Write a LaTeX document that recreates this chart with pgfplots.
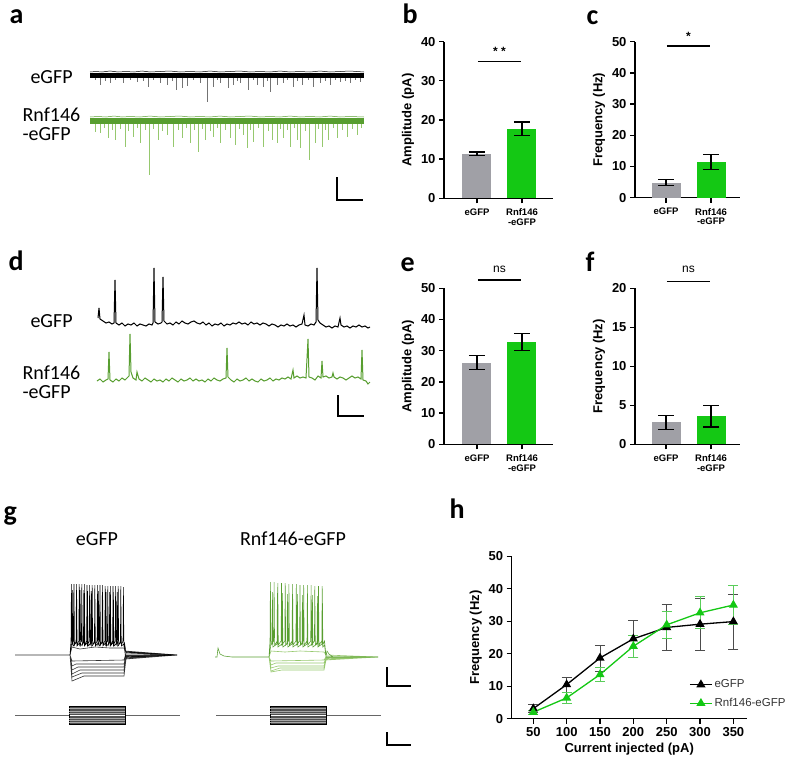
\documentclass[border=0pt]{standalone}
\usepackage{pgfplots}
\pgfplotsset{compat=1.18}
\usepackage{fontspec}
\setmainfont{Liberation Sans}
\newfontfamily\calib{Carlito}
\definecolor{bargray}{RGB}{160,160,166}
\definecolor{bargreen}{RGB}{20,200,20}
\definecolor{trgreen}{RGB}{88,158,48}
\definecolor{spkgreen}{RGB}{150,200,110}
\definecolor{hgreenerr}{RGB}{90,205,90}
\definecolor{stimgray}{RGB}{80,80,80}
\newcommand{\fs}[1]{\fontsize{#1}{#1}\selectfont}
\pgfplotsset{
 barax/.style={scale only axis, anchor=south west, axis x line*=bottom, axis y line*=left,
   axis line style={-, line width=1.3pt}, tick align=outside, major tick length=5pt,
   tick style={black, line width=1.3pt}, ymin=0, xtick={0,1}, xticklabels={eGFP,{Rnf146\\-eGFP}},
   xticklabel style={align=center, font=\bfseries\fs{9.5}, yshift=-2pt},
   yticklabel style={font=\bfseries\fs{13}}, /pgf/number format/assume math mode=true,
   ylabel style={font=\bfseries\fs{13}}, clip=false},
 mybar/.style={ybar, bar width=29pt, bar shift=0pt, draw=none, fill=#1,
   error bars/.cd, y dir=both, y explicit, error bar style={black, line width=1.3pt},
   error mark options={rotate=90, mark size=8pt, line width=1.3pt, black}},
}
\begin{document}
\begin{tikzpicture}[x=1pt,y=1pt]
% ---------------- overlay axis in pixel coordinates (traces) ----------------
\begin{axis}[at={(0pt,0pt)}, anchor=south west, scale only axis, width=790pt, height=763pt,
  xmin=0, xmax=790, ymin=0, ymax=763, y dir=reverse, axis lines=none, clip=false, unbounded coords=jump]
% panel letters
\node[anchor=base west, font=\calib\bfseries\fs{28}] at (axis cs:6,23) {a};
\node[anchor=base west, font=\calib\bfseries\fs{28}] at (axis cs:399,23) {b};
\node[anchor=base west, font=\calib\bfseries\fs{28}] at (axis cs:583,24) {c};
\node[anchor=base west, font=\calib\bfseries\fs{28}] at (axis cs:5,270) {d};
\node[anchor=base west, font=\calib\bfseries\fs{28}] at (axis cs:397,271.5) {e};
\node[anchor=base west, font=\calib\bfseries\fs{28}] at (axis cs:582,271.5) {f};
\node[anchor=base west, font=\calib\bfseries\fs{28}] at (axis cs:0,520) {g};
\node[anchor=base west, font=\calib\bfseries\fs{28}] at (axis cs:446,518) {h};
% trace labels
\node[anchor=west, font=\calib\fs{20}] at (axis cs:27,77) {eGFP};
\node[anchor=west, font=\calib\fs{20}] at (axis cs:19,115) {Rnf146};
\node[anchor=west, font=\calib\fs{20}] at (axis cs:19,134) {-eGFP};
\node[anchor=west, font=\calib\fs{20}] at (axis cs:27,321) {eGFP};
\node[anchor=west, font=\calib\fs{20}] at (axis cs:19,373) {Rnf146};
\node[anchor=west, font=\calib\fs{20}] at (axis cs:19,392) {-eGFP};
\node[font=\calib\fs{20}] at (axis cs:97,539) {eGFP};
\node[font=\calib\fs{20}] at (axis cs:293,539) {Rnf146-eGFP};
% ---- panel a ----
\addplot[black!55, line width=0.6pt] coordinates {
(95,75)(95,80)(95,nan) (100,75)(100,85)(100,nan) (105,75)(105,81)(105,nan) (110,75)(110,83)(110,nan)
(115,75)(115,80)(115,nan) (123,75)(123,83)(123,nan) (130,75)(130,80)(130,nan) (137,75)(137,82)(137,nan)
(143,75)(143,81)(143,nan) (148,75)(148,87)(148,nan) (153,75)(153,80)(153,nan) (160,75)(160,83)(160,nan)
(167,75)(167,85)(167,nan) (172,75)(172,81)(172,nan) (176,75)(176,90)(176,nan) (182,75)(182,88)(182,nan)
(187,75)(187,86)(187,nan) (193,75)(193,80)(193,nan) (200,75)(200,83)(200,nan) (207,75)(207,102)(207,nan)
(213,75)(213,87)(213,nan) (217,75)(217,80)(217,nan) (220,75)(220,83)(220,nan) (228,75)(228,88)(228,nan)
(233,75)(233,85)(233,nan) (237,75)(237,81)(237,nan) (240,75)(240,83)(240,nan) (248,75)(248,90)(248,nan)
(253,75)(253,80)(253,nan) (257,75)(257,85)(257,nan) (263,75)(263,87)(263,nan) (267,75)(267,81)(267,nan)
(270,75)(270,92)(270,nan) (277,75)(277,85)(277,nan) (283,75)(283,83)(283,nan) (287,75)(287,80)(287,nan)
(293,75)(293,87)(293,nan) (297,75)(297,81)(297,nan) (302,75)(302,85)(302,nan) (308,75)(308,80)(308,nan)
(313,75)(313,87)(313,nan) (320,75)(320,83)(320,nan) (325,75)(325,81)(325,nan) (330,75)(330,85)(330,nan)
(335,75)(335,80)(335,nan) (340,75)(340,82)(340,nan) (345,75)(345,81)(345,nan) (350,75)(350,83)(350,nan)
(355,75)(355,80)(355,nan) (360,75)(360,82)(360,nan)};
\addplot[black, line width=5pt] coordinates {(90,75)(364,75)};
\addplot[black, line width=0.5pt] coordinates {(90,72)(96,71.5)(102,72)(110,71)(118,72)(126,71.5)(134,72)(142,71)(150,72)(160,71.5)(170,71)(180,72)(190,71.5)(200,72)(210,71)(220,72)(230,71.5)(240,71)(250,72)(260,71.5)(270,72)(280,71)(290,72)(300,71.5)(310,72)(320,71)(330,72)(340,71.5)(350,71)(364,72)};
\addplot[spkgreen, line width=0.6pt] coordinates {
(95,120)(95,132)(95,nan) (100,120)(100,133)(100,nan) (104,120)(104,128)(104,nan) (108,120)(108,138)(108,nan)
(112,120)(112,130)(112,nan) (115,120)(115,140)(115,nan) (120,120)(120,129)(120,nan) (125,120)(125,147)(125,nan)
(128,120)(128,131)(128,nan) (133,120)(133,137)(133,nan) (137,120)(137,128)(137,nan) (140,120)(140,143)(140,nan)
(145,120)(145,130)(145,nan) (149,120)(149,175)(149,nan) (153,120)(153,129)(153,nan) (158,120)(158,140)(158,nan)
(162,120)(162,131)(162,nan) (167,120)(167,135)(167,nan) (173,120)(173,147)(173,nan) (178,120)(178,130)(178,nan)
(182,120)(182,138)(182,nan) (186,120)(186,128)(186,nan) (190,120)(190,143)(190,nan) (194,120)(194,130)(194,nan)
(198,120)(198,152)(198,nan) (202,120)(202,129)(202,nan) (205,120)(205,140)(205,nan) (210,120)(210,131)(210,nan)
(213,120)(213,137)(213,nan) (217,120)(217,128)(217,nan) (220,120)(220,143)(220,nan) (225,120)(225,130)(225,nan)
(230,120)(230,138)(230,nan) (235,120)(235,145)(235,nan) (239,120)(239,129)(239,nan) (243,120)(243,135)(243,nan)
(247,120)(247,148)(247,nan) (250,120)(250,130)(250,nan) (253,120)(253,142)(253,nan) (258,120)(258,128)(258,nan)
(263,120)(263,147)(263,nan) (268,120)(268,131)(268,nan) (272,120)(272,140)(272,nan) (277,120)(277,143)(277,nan)
(280,120)(280,129)(280,nan) (283,120)(283,138)(283,nan) (287,120)(287,130)(287,nan) (290,120)(290,147)(290,nan)
(294,120)(294,128)(294,nan) (297,120)(297,140)(297,nan) (300,120)(300,148)(300,nan) (305,120)(305,131)(305,nan)
(309,120)(309,160)(309,nan) (315,120)(315,143)(315,nan) (318,120)(318,129)(318,nan) (322,120)(322,147)(322,nan)
(325,120)(325,130)(325,nan) (328,120)(328,140)(328,nan) (333,120)(333,128)(333,nan) (337,120)(337,138)(337,nan)
(342,120)(342,130)(342,nan) (347,120)(347,137)(347,nan) (352,120)(352,129)(352,nan) (357,120)(357,135)(357,nan)
(361,120)(361,128)(361,nan)};
\addplot[trgreen, line width=6pt] coordinates {(90,120.5)(364,120.5)};
\addplot[trgreen, line width=0.5pt] coordinates {(90,117)(98,116.5)(106,117)(114,116)(122,117)(130,116.5)(140,117)(150,116)(160,117)(170,116.5)(180,116)(190,117)(200,116.5)(210,117)(220,116)(230,117)(240,116.5)(250,116)(260,117)(270,116.5)(280,117)(290,116)(300,117)(310,116.5)(320,117)(330,116)(340,117)(350,116.5)(364,117)};
\addplot[black, line width=1.2pt] coordinates {(337,177)(337,200)(363,200)};
% ---- panel d ----
\addplot[black, line width=1pt] coordinates {
(98,318)(99,308)(100,319)(103,321)(106,323)(109,322)(112,324)(114,323)(115,280)(116,323)(119,325)(122,323)(125,326)(128,324)(131,325)(134,323)(137,326)(140,324)(143,325)(146,326)(149,324)(152,325)(153,323)(154,268)(155,322)(158,324)(161,323)(162,322)(163,277)(164,321)(167,324)(170,323)(173,325)(176,322)(179,324)(182,321)(185,323)(188,324)(191,322)(194,321)(197,323)(200,324)(203,322)(206,325)(209,323)(212,326)(215,324)(218,325)(221,323)(224,326)(227,324)(230,325)(233,323)(236,324)(239,322)(242,324)(245,323)(248,325)(251,322)(254,324)(257,323)(260,325)(263,323)(266,324)(269,326)(272,324)(275,325)(278,327)(281,325)(284,326)(287,324)(290,326)(293,325)(296,327)(299,325)(302,324)(304,315)(305,325)(308,326)(311,324)(314,325)(316,322)(317,268)(318,320)(320,323)(323,325)(326,327)(329,326)(332,328)(335,326)(338,327)(340,318)(341,325)(344,327)(347,326)(350,328)(353,326)(356,327)(359,325)(362,327)(365,326)(368,328)(370,327)};
\addplot[trgreen, line width=1pt] coordinates {
(97,381)(100,379)(103,382)(106,380)(108,379)(109,352)(110,380)(113,382)(116,379)(119,381)(122,378)(125,380)(128,377)(129,376)(130,334)(131,372)(133,378)(136,380)(137,372)(139,379)(142,381)(145,378)(148,380)(151,382)(154,379)(157,381)(160,380)(163,382)(166,379)(169,381)(172,378)(175,380)(178,382)(181,379)(184,381)(187,380)(190,378)(193,381)(196,379)(199,381)(202,380)(205,382)(208,379)(211,381)(214,378)(217,380)(220,381)(223,379)(226,378)(227,348)(228,377)(231,380)(234,382)(237,379)(240,381)(243,380)(246,378)(249,381)(252,379)(255,381)(258,382)(261,379)(264,381)(267,380)(270,378)(273,381)(276,379)(279,380)(282,378)(285,379)(288,377)(291,379)(293,370)(294,378)(297,376)(300,378)(303,377)(306,378)(308,339)(309,377)(312,378)(315,380)(318,376)(321,378)(322,361)(323,377)(326,376)(329,378)(332,377)(333,373)(334,377)(337,379)(340,377)(343,378)(346,380)(349,378)(352,376)(355,378)(358,377)(361,379)(362,350)(363,380)(366,381)(368,384)(370,382)};
\addplot[black, line width=1.2pt] coordinates {(338,395)(338,416)(364,416)};
% ---- panel g: eGFP ----
\addplot[black!80, line width=0.6pt] coordinates {
(15,655)(70,655)(72,647)(80,649)(95,647)(110,648)(124,648)(126,652)(177,655)(177,nan)
(70,655)(72,661)(124,660)(126,653)(177,655)(177,nan)
(70,655)(72,666)(76,664)(124,664)(126,655)(177,655)(177,nan)
(70,655)(72,670)(78,667)(124,667)(126,656)(177,655)(177,nan)
(70,655)(72,674)(80,670)(124,670)(126,657)(177,655)(177,nan)
(70,655)(72,677)(82,673)(124,673)(126,658)(177,655)(177,nan)
(70,655)(72,681)(84,676)(124,676)(126,659)(177,655)(177,nan)
(125,651)(177,655)};
\addplot[black, line width=0.55pt] coordinates {
(70,655)(71,641)(71.4,584)(71.9,645)(73.6,641)(74,584)(74.5,645)(76.2,641)(76.6,584)(77.1,645)
(78.8,641)(79.2,584)(79.7,645)(81.4,641)(81.8,584)(82.3,645)(84,641)(84.4,584)(84.9,645)
(86.6,641)(87,585)(87.5,645)(89.2,641)(89.6,585)(90.1,645)(91.8,641)(92.2,585)(92.7,645)
(94.4,641)(94.8,585)(95.3,645)(97,641)(97.4,585)(97.9,645)(99.6,641)(100,585)(100.5,645)
(102.2,641)(102.6,585)(103.1,645)(104.8,641)(105.2,586)(105.7,645)(107.4,641)(107.8,586)(108.3,645)
(110,641)(110.4,586)(110.9,645)(112.6,641)(113,586)(113.5,645)(115.2,641)(115.6,586)(116.1,645)
(117.8,641)(118.2,586)(118.7,645)(120.4,641)(120.8,586)(121.3,645)(123,641)(123.4,587)(123.9,645)
(124.5,643)(126,652)(177,655)(177,nan)
(70,655)(72,643)(72.3,643)(72.7,590)(73.2,646)(76,643)(76.4,590)(76.9,646)(79.7,643)(80.1,590)(80.6,646)
(83.4,643)(83.8,590)(84.3,646)(87.1,643)(87.5,591)(88,646)(90.8,643)(91.2,591)(91.7,646)
(94.5,643)(94.9,591)(95.4,646)(98.2,643)(98.6,591)(99.1,646)(101.9,643)(102.3,592)(102.8,646)
(105.6,643)(106,592)(106.5,646)(109.3,643)(109.7,592)(110.2,646)(113,643)(113.4,592)(113.9,646)
(116.7,643)(117.1,592)(117.6,646)(120.4,643)(120.8,592)(121.3,646)(124,644)(125.5,657)(177,655)};
% ---- panel g: Rnf146-eGFP ----
\addplot[spkgreen, line width=0.6pt] coordinates {
(269,657)(271,651)(285,652)(300,651)(324,652)(326,655)(378,657)(378,nan)
(269,657)(271,661)(324,660)(326,657)(378,657)(378,nan)
(269,657)(271,665)(276,663)(324,663)(326,658)(378,657)(378,nan)
(269,657)(271,668)(278,666)(324,666)(326,659)(378,657)(378,nan)
(269,657)(271,671)(280,668)(324,668)(326,660)(378,657)(378,nan)
(269,657)(271,672)(282,670)(324,670)(326,660)(378,657)};
\addplot[trgreen, line width=0.55pt] coordinates {
(215,657)(217,657)(218,648)(220,654)(224,656)(232,657)(269,657)
(270,641)(270.4,582)(270.9,645)(273.7,641)(274.1,582)(274.6,645)(277.4,641)(277.8,583)(278.3,645)
(281.1,641)(281.5,583)(282,645)(284.8,641)(285.2,583)(285.7,645)(288.5,641)(288.9,584)(289.4,645)
(292.2,641)(292.6,584)(293.1,645)(295.9,641)(296.3,584)(296.8,645)(299.6,641)(300,585)(300.5,645)
(303.3,641)(303.7,585)(304.2,645)(307,641)(307.4,585)(307.9,645)(310.7,641)(311.1,585)(311.6,645)
(314.4,641)(314.8,586)(315.3,645)(318.1,641)(318.5,586)(319,645)(321.8,641)(322.2,586)(322.7,645)
(324.5,641)(326,656)(327,651)(329,654)(333,657)(378,657)(378,nan)
(269,657)(271,644)(272,644)(272.4,592)(272.9,647)(277,644)(277.4,593)(277.9,647)(282,644)(282.4,593)(282.9,647)
(287,644)(287.4,594)(287.9,647)(292,644)(292.4,594)(292.9,647)(297,644)(297.4,594)(297.9,647)
(302,644)(302.4,595)(302.9,647)(307,644)(307.4,595)(307.9,647)(312,644)(312.4,595)(312.9,647)
(317,644)(317.4,596)(317.9,647)(322,644)(322.4,596)(322.9,647)(324.5,645)(326,657)(378,657)};
% scale bars g
\addplot[black, line width=1.2pt] coordinates {(387,667)(387,686)(411,686)};
\addplot[black, line width=1.2pt] coordinates {(387,732)(387,745)(411,745)};
% stimulus protocol
\addplot[black!60, line width=1.2pt] coordinates {(15,715.7)(180,715.7)(180,nan)(216,715.7)(381,715.7)};
\addplot[draw=black, line width=0.6pt, fill=stimgray] coordinates {(69,706)(125,706)(125,724)(69,724)(69,706)};
\addplot[draw=black, line width=0.6pt, fill=stimgray] coordinates {(270,706)(326,706)(326,724)(270,724)(270,706)};
\addplot[black!35, line width=0.5pt] coordinates {
(69,708.5)(125,708.5)(125,nan)(69,711)(125,711)(125,nan)(69,713.3)(125,713.3)(125,nan)
(69,718.2)(125,718.2)(125,nan)(69,720.5)(125,720.5)(125,nan)(69,722.5)(125,722.5)(125,nan)
(270,708.5)(326,708.5)(326,nan)(270,711)(326,711)(326,nan)(270,713.3)(326,713.3)(326,nan)
(270,718.2)(326,718.2)(326,nan)(270,720.5)(326,720.5)(326,nan)(270,722.5)(326,722.5)};
\addplot[white, line width=1.1pt] coordinates {(69.5,715.7)(124.5,715.7)(124.5,nan)(270.5,715.7)(325.5,715.7)};
\end{axis}
% ---------------- panel b ----------------
\begin{axis}[barax, at={(444pt,564.7pt)}, width=109pt, height=156.6pt, xmin=-0.733, xmax=1.689,
  ymax=40, ytick={0,10,20,30,40}, ylabel={Amplitude (pA)}]
\addplot[mybar=bargray] coordinates {(0,11.4) +- (0,0.45)};
\addplot[mybar=bargreen] coordinates {(1,17.8) +- (0,1.7)};
\addplot[black, line width=1.3pt] coordinates {(0.02,34.9)(0.98,34.9)};
\node[font=\bfseries\fs{12}] at (axis cs:0.5,37.6) {* *};
\end{axis}
% ---------------- panel c ----------------
\begin{axis}[barax, at={(635pt,565.3pt)}, width=105pt, height=156pt, xmin=-0.689, xmax=1.644,
  ymax=50, ytick={0,10,20,30,40,50}, ylabel={Frequency (Hz)}]
\addplot[mybar=bargray] coordinates {(0,4.8) +- (0,1.0)};
\addplot[mybar=bargreen] coordinates {(1,11.4) +- (0,2.4)};
\addplot[black, line width=1.3pt] coordinates {(0.02,48.6)(0.98,48.6)};
\node[font=\bfseries\fs{12}] at (axis cs:0.5,51.6) {*};
\end{axis}
% ---------------- panel e ----------------
\begin{axis}[barax, at={(444pt,318.7pt)}, width=109pt, height=156pt, xmin=-0.733, xmax=1.689,
  ymax=50, ytick={0,10,20,30,40,50}, ylabel={Amplitude (pA)}]
\addplot[mybar=bargray] coordinates {(0,26.2) +- (0,2.3)};
\addplot[mybar=bargreen] coordinates {(1,32.8) +- (0,2.7)};
\addplot[black, line width=1.3pt] coordinates {(0.02,52.7)(0.98,52.7)};
\node[font=\fs{12}] at (axis cs:0.5,56.2) {ns};
\end{axis}
% ---------------- panel f ----------------
\begin{axis}[barax, at={(635pt,318.7pt)}, width=105pt, height=156pt, xmin=-0.689, xmax=1.644,
  ymax=20, ytick={0,5,10,15,20}, ylabel={Frequency (Hz)}]
\addplot[mybar=bargray] coordinates {(0,2.8) +- (0,0.93)};
\addplot[mybar=bargreen] coordinates {(1,3.6) +- (0,1.4)};
\addplot[black, line width=1.3pt] coordinates {(0.02,20.85)(0.98,20.85)};
\node[font=\fs{12}] at (axis cs:0.5,22.4) {ns};
\end{axis}
% ---------------- panel h ----------------
\begin{axis}[at={(511.7pt,44.3pt)}, anchor=south west, scale only axis, width=235pt, height=162.4pt,
  xmin=17.6, xmax=370, ymin=0, ymax=50, axis x line*=bottom, axis y line*=left,
  axis line style={-, line width=1.3pt}, tick align=outside, major tick length=5pt,
  tick style={black, line width=1.3pt}, xtick={50,100,...,350}, ytick={0,10,...,50},
  ticklabel style={font=\bfseries\fs{13}}, /pgf/number format/assume math mode=true,
  xlabel={Current injected (pA)}, ylabel={Frequency (Hz)}, label style={font=\bfseries\fs{13}},
  legend style={draw=none, fill=none, at={(axis description cs:0.742,0.265)}, anchor=north west,
    font=\fs{11.5}, text=black!80, row sep=5pt},
  legend cell align=left,
  legend image code/.code={\draw[#1, mark repeat=2, mark phase=2] plot coordinates {(0pt,0pt)(11pt,0pt)(22pt,0pt)};},
  clip=false]
\addplot[black, line width=1.3pt, mark=triangle*, mark size=4pt, mark options={solid},
  error bars/.cd, y dir=both, y explicit, error bar style={line width=0.8pt, black!70},
  error mark options={rotate=90, mark size=5pt, line width=0.8pt, black!70}]
  coordinates {(50,3.1) +- (0,1.3) (100,10.5) +- (0,2.3) (150,18.7) +- (0,4.0) (200,24.6) +- (0,5.8)
  (250,28.1) +- (0,7.0) (300,29.1) +- (0,8.0) (350,29.9) +- (0,8.5)};
\addplot[bargreen, line width=1.3pt, mark=triangle*, mark size=4pt, mark options={solid},
  error bars/.cd, y dir=both, y explicit, error bar style={line width=0.8pt, hgreenerr},
  error mark options={rotate=90, mark size=5pt, line width=0.8pt, hgreenerr}]
  coordinates {(50,2.0) +- (0,0.7) (100,6.4) +- (0,1.8) (150,13.6) +- (0,2.1) (200,22.3) +- (0,3.4)
  (250,28.9) +- (0,4.2) (300,32.6) +- (0,4.9) (350,35.0) +- (0,6.0)};
\legend{eGFP, Rnf146-eGFP}
\end{axis}
\pgfresetboundingbox
\path[use as bounding box] (0pt,0pt) rectangle (790pt,763pt);
\end{tikzpicture}
\end{document}
